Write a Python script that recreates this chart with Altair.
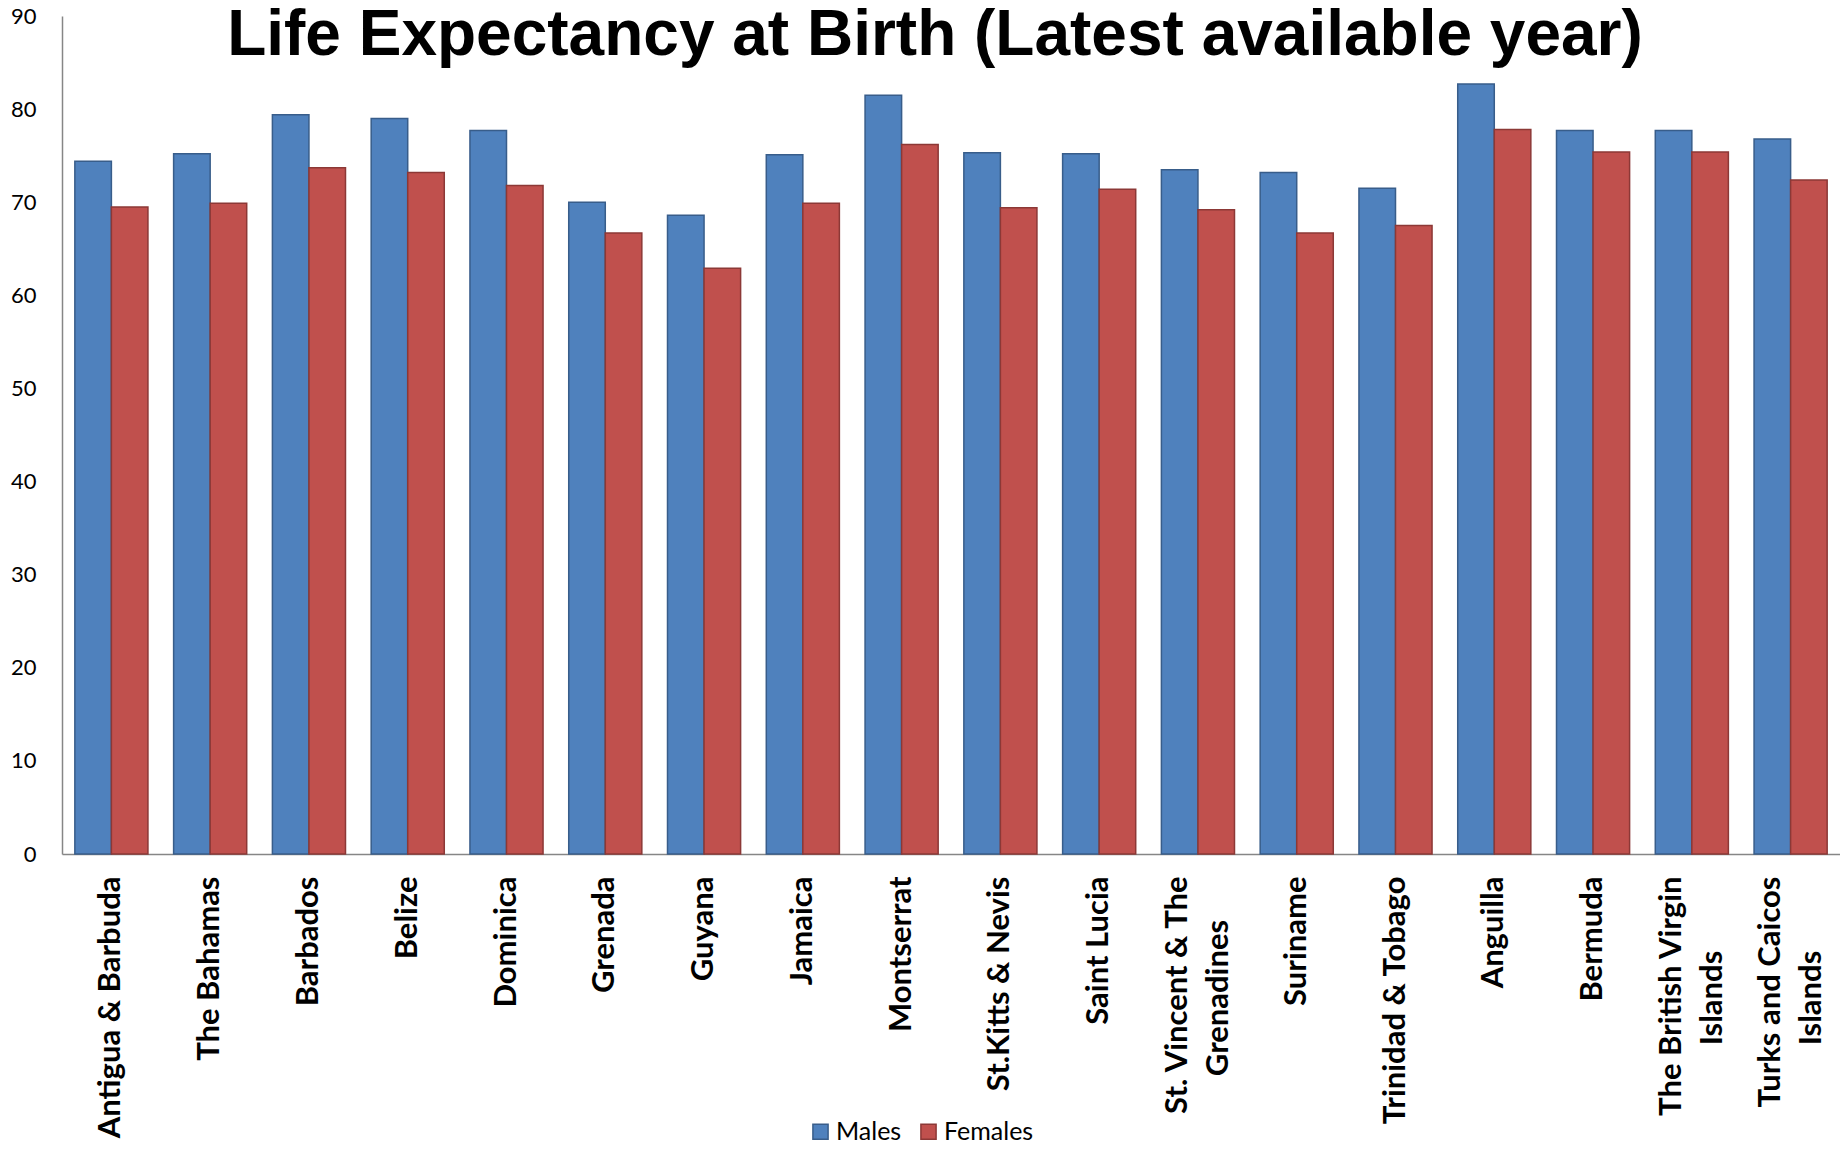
import altair as alt
import pandas as pd

countries = [
    "Antigua & Barbuda", "The Bahamas", "Barbados", "Belize", "Dominica",
    "Grenada", "Guyana", "Jamaica", "Montserrat", "St.Kitts & Nevis",
    "Saint Lucia", "St. Vincent & The\nGrenadines", "Suriname",
    "Trinidad & Tobago", "Anguilla", "Bermuda",
    "The British Virgin\nIslands", "Turks and Caicos\nIslands",
]
males = [74.4, 75.2, 79.4, 79.0, 77.7, 70.0, 68.6, 75.1, 81.5, 75.3,
         75.2, 73.5, 73.2, 71.5, 82.7, 77.7, 77.7, 76.8]
females = [69.5, 69.9, 73.7, 73.2, 71.8, 66.7, 62.9, 69.9, 76.2, 69.4,
           71.4, 69.2, 66.7, 67.5, 77.8, 75.4, 75.4, 72.4]
series = ["Males", "Females"]
fill_colors = ["#4F81BD", "#C0504D"]
stroke_colors = ["#385D8A", "#8C3836"]
y_ticks = [0, 10, 20, 30, 40, 50, 60, 70, 80, 90]
TITLE = "Life Expectancy at Birth (Latest available year)"

rows = []
for c, m, f in zip(countries, males, females):
    rows.append({"country": c, "sex": "Males", "value": m})
    rows.append({"country": c, "sex": "Females", "value": f})
df = pd.DataFrame(rows)

second = pd.DataFrame([
    {"country": c, "line2": c.split("\n")[1]} for c in countries if "\n" in c
])

W, H = 1778, 838
LABEL_FONT = "Lato"
XFS = 31

x_axis = alt.Axis(
    title=None, labelAngle=-90, ticks=False,
    labelExpr="split(datum.label, '\\n')[0]",
    labelOffset={"condition": {"test": "indexof(datum.label, '\\n') >= 0", "value": -20},
                 "value": 0},
    labelFont=LABEL_FONT, labelFontWeight="bold", labelFontSize=XFS,
    labelColor="#000000", labelPadding=22, labelLimit=500,
    domainColor="#868686", domainWidth=1.5,
)
x_scale = alt.Scale(domain=countries, paddingInner=0.26, paddingOuter=0.13)

legend = alt.Legend(title=None, orient="none", direction="horizontal",
                    legendX=746, legendY=1103,
                    symbolType="square", symbolSize=230, symbolStrokeWidth=1.5,
                    labelFont=LABEL_FONT, labelFontSize=25, labelColor="#000000",
                    columnPadding=14, labelOffset=3)

bars = alt.Chart(df).mark_bar(strokeWidth=1.5).encode(
    x=alt.X("country:N", scale=x_scale, axis=x_axis),
    xOffset=alt.XOffset("sex:N", sort=series, scale=alt.Scale(paddingInner=0, paddingOuter=0)),
    y=alt.Y("value:Q", scale=alt.Scale(domain=[0, 90], nice=False),
            axis=alt.Axis(title=None, values=y_ticks, ticks=False, grid=False,
                          labelFont=LABEL_FONT, labelFontSize=22, labelColor="#000000",
                          labelPadding=26, domainColor="#868686", domainWidth=1.5)),
    color=alt.Color("sex:N", sort=series,
                    scale=alt.Scale(domain=series, range=fill_colors), legend=legend),
    stroke=alt.Stroke("sex:N", sort=series,
                      scale=alt.Scale(domain=series, range=stroke_colors), legend=legend),
)

line2 = alt.Chart(second).mark_text(
    font=LABEL_FONT, fontWeight="bold", fontSize=XFS, color="#000000",
    angle=270, align="center", baseline="middle", dy=21,
).encode(
    x=alt.X("country:N", scale=x_scale, axis=x_axis),
    y=alt.value(H + 144),
    text="line2:N",
)

title = alt.Chart(pd.DataFrame({"t": [TITLE]})).mark_text(
    font="Liberation Sans", fontWeight="bold", fontSize=64,
    color="#000000", align="center", baseline="alphabetic",
).encode(text="t:N", x=alt.value(873), y=alt.value(39))

chart = alt.layer(bars, line2, title).properties(
    width=W, height=H,
    autosize=alt.AutoSizeParams(type="none"),
    padding={"left": 54, "top": 8, "right": 0, "bottom": 288},
).configure_view(stroke=None)

chart.save("out.html", embed_options={"renderer": "svg", "actions": False})
